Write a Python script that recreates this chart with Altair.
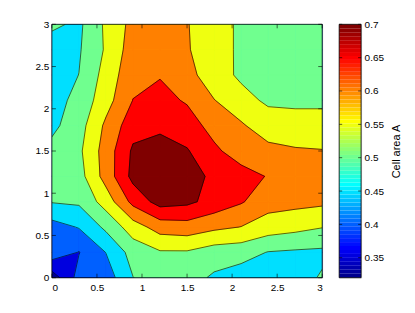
import altair as alt
import numpy as np
import pandas as pd

# ---------------- data ----------------
x_vals = [0.0, 0.3, 0.6, 0.9, 1.2, 1.5, 1.8, 2.1, 2.4, 2.7, 3.0]
y_vals = [0.0, 0.3, 0.6, 0.9, 1.2, 1.5, 1.8, 2.1, 2.4, 2.7, 3.0]
# rows: y (bottom -> top), columns: x (left -> right)
z_y00 = [0.322, 0.418, 0.424, 0.499, 0.525, 0.520, 0.4926, 0.475, 0.470, 0.480, 0.505]
z_y03 = [0.432, 0.398, 0.451, 0.520, 0.545, 0.545, 0.525, 0.520, 0.498, 0.493, 0.490]
z_y06 = [0.430, 0.453, 0.511, 0.576, 0.622, 0.629, 0.611, 0.599, 0.576, 0.565, 0.552]
z_y09 = [0.503, 0.508, 0.572, 0.665, 0.720, 0.711, 0.682, 0.6545, 0.620, 0.615, 0.610]
z_y12 = [0.520, 0.530, 0.620, 0.715, 0.740, 0.715, 0.6925, 0.670, 0.647, 0.620, 0.612]
z_y15 = [0.515, 0.540, 0.622, 0.708, 0.716, 0.704, 0.660, 0.6255, 0.6187, 0.605, 0.602]
z_y18 = [0.488, 0.529, 0.610, 0.680, 0.692, 0.673, 0.632, 0.608, 0.565, 0.570, 0.570]
z_y21 = [0.480, 0.515, 0.580, 0.651, 0.665, 0.645, 0.602, 0.560, 0.545, 0.540, 0.540]
z_y24 = [0.475, 0.5005, 0.569, 0.635, 0.647, 0.622, 0.563, 0.545, 0.535, 0.530, 0.535]
z_y27 = [0.473, 0.495, 0.556, 0.625, 0.635, 0.605, 0.565, 0.544, 0.530, 0.525, 0.530]
z_y30 = [0.510, 0.490, 0.559, 0.615, 0.630, 0.603, 0.565, 0.544, 0.530, 0.525, 0.535]
Z = [z_y00, z_y03, z_y06, z_y09, z_y12, z_y15, z_y18, z_y21, z_y24, z_y27, z_y30]

levels = [0.35, 0.40, 0.45, 0.50, 0.55, 0.60, 0.65, 0.70]
clim = [0.32, 0.70]
x_ticks = [0, 0.5, 1, 1.5, 2, 2.5, 3]
y_ticks = [0, 0.5, 1, 1.5, 2, 2.5, 3]
cb_ticks = [0.35, 0.4, 0.45, 0.5, 0.55, 0.6, 0.65, 0.7]
cb_title = "Cell area  A"


# ---------------- colormap (MATLAB jet, 64 entries) ----------------
def jet(m=64):
    n = int(np.ceil(m / 4))
    u = np.concatenate([np.arange(1, n + 1) / n, np.ones(n - 1), np.arange(n, 0, -1) / n])
    g = int(np.ceil(n / 2)) - (1 if m % 4 == 1 else 0) + np.arange(1, len(u) + 1)
    r = g + n
    b = g - n
    J = np.zeros((m, 3))
    mr, mg, mb = r <= m, g <= m, b >= 1
    J[r[mr] - 1, 0] = u[mr]
    J[g[mg] - 1, 1] = u[mg]
    J[b[mb] - 1, 2] = u[mb]
    return ["#%02x%02x%02x" % tuple(int(round(c * 255)) for c in row) for row in J]


JET = jet(64)

# ---------------- contour computation (marching squares) ----------------
def cell_info(i, j, L):
    P = [(x_vals[i], y_vals[j]), (x_vals[i + 1], y_vals[j]),
         (x_vals[i + 1], y_vals[j + 1]), (x_vals[i], y_vals[j + 1])]
    v = [Z[j][i], Z[j][i + 1], Z[j + 1][i + 1], Z[j + 1][i]]
    hi = [a >= L for a in v]
    cross = {}
    for k in range(4):
        k2 = (k + 1) % 4
        if hi[k] != hi[k2]:
            t = (L - v[k]) / (v[k2] - v[k])
            cross[k] = (P[k][0] + t * (P[k2][0] - P[k][0]), P[k][1] + t * (P[k2][1] - P[k][1]))
    return P, v, hi, cross


def cell_polys(i, j, L):
    P, v, hi, cross = cell_info(i, j, L)
    if not any(hi):
        return []
    if all(hi):
        return [P]
    if len(cross) == 4 and np.mean(v) < L:
        return [[cross[(k - 1) % 4], P[k], cross[k]] for k in range(4) if hi[k]]
    poly = []
    for k in range(4):
        if hi[k]:
            poly.append(P[k])
        if k in cross:
            poly.append(cross[k])
    return [poly]


def cell_segs(i, j, L):
    P, v, hi, cross = cell_info(i, j, L)
    if len(cross) == 2:
        a, b = [cross[k] for k in sorted(cross)]
        return [(a, b)]
    if len(cross) == 4:
        keep_hi = np.mean(v) < L
        return [(cross[(k - 1) % 4], cross[k]) for k in range(4) if hi[k] == keep_hi]
    return []


zmin = min(min(r) for r in Z)
fill_levels = [zmin] + levels
nx, ny = len(x_vals), len(y_vals)

poly_rows = []
pid = 0
for li, L in enumerate(fill_levels):
    for j in range(ny - 1):
        for i in range(nx - 1):
            for poly in cell_polys(i, j, L):
                pts = list(poly) + [poly[0]]
                for k, (px, py) in enumerate(pts):
                    poly_rows.append({"pid": pid, "li": li, "lev": L, "k": k, "x": px, "y": py})
                pid += 1
poly_df = pd.DataFrame(poly_rows)

seg_rows = []
for L in levels:
    for j in range(ny - 1):
        for i in range(nx - 1):
            for (a, b) in cell_segs(i, j, L):
                seg_rows.append({"x1": a[0], "y1": a[1], "x2": b[0], "y2": b[1]})
seg_df = pd.DataFrame(seg_rows)

# ---------------- chart ----------------
W, H = 271, 254
CBW = 22
FONT = "Liberation Sans"

xs = alt.Scale(domain=[0, 3], nice=False, zero=False)
ys = alt.Scale(domain=[0, 3], nice=False, zero=False)
cscale = alt.Scale(type="quantize", domain=clim, range=JET)

x_axis = alt.Axis(values=x_ticks, format="~g", ticks=False, domain=False, grid=False,
                  labelPadding=5, title=None)
y_axis = alt.Axis(values=y_ticks, format="~g", ticks=False, domain=False, grid=False,
                  labelPadding=3, title=None)

layers = []
for li in range(len(fill_levels)):
    sub = poly_df[poly_df["li"] == li]
    if sub.empty:
        continue
    layers.append(
        alt.Chart(sub).mark_line(filled=True, strokeWidth=0.8, clip=True).encode(
            x=alt.X("x:Q", scale=xs, axis=x_axis),
            y=alt.Y("y:Q", scale=ys, axis=y_axis),
            detail="pid:N",
            order=alt.Order("k:Q"),
            fill=alt.Fill("lev:Q", scale=cscale, legend=None),
            stroke=alt.Stroke("lev:Q", scale=cscale, legend=None),
        )
    )

lines = alt.Chart(seg_df).mark_rule(color="black", strokeWidth=0.6, clip=True).encode(
    x=alt.X("x1:Q", scale=xs, axis=x_axis),
    y=alt.Y("y1:Q", scale=ys, axis=y_axis),
    x2="x2:Q",
    y2="y2:Q",
)

xt = pd.DataFrame({"t": x_ticks})
yt = pd.DataFrame({"t": y_ticks})
TL = 4
tick_b = alt.Chart(xt).mark_rule(color="black", strokeWidth=0.6).encode(
    x=alt.X("t:Q", scale=xs, axis=x_axis), y=alt.value(H), y2=alt.value(H - TL))
tick_t = alt.Chart(xt).mark_rule(color="black", strokeWidth=0.6).encode(
    x=alt.X("t:Q", scale=xs, axis=x_axis), y=alt.value(0), y2=alt.value(TL))
tick_l = alt.Chart(yt).mark_rule(color="black", strokeWidth=0.6).encode(
    y=alt.Y("t:Q", scale=ys, axis=y_axis), x=alt.value(0), x2=alt.value(TL))
tick_r = alt.Chart(yt).mark_rule(color="black", strokeWidth=0.6).encode(
    y=alt.Y("t:Q", scale=ys, axis=y_axis), x=alt.value(W), x2=alt.value(W - TL))
frame = alt.Chart(pd.DataFrame({"a": [0]})).mark_rect(filled=False, stroke="black", strokeWidth=0.8).encode(
    x=alt.value(0), x2=alt.value(W), y=alt.value(0), y2=alt.value(H))

main = alt.layer(*layers, lines, tick_b, tick_t, tick_l, tick_r, frame).properties(width=W, height=H)

# colorbar
step = (clim[1] - clim[0]) / len(JET)
cb_lo = [clim[0] + k * step for k in range(len(JET))]
cb_df = pd.DataFrame({"v0": cb_lo, "v1": [v + step for v in cb_lo], "vm": [v + step / 2 for v in cb_lo]})
cys = alt.Scale(domain=clim, nice=False, zero=False)
cb_axis = alt.Axis(values=cb_ticks, format="~g", ticks=False, domain=False, grid=False, orient="right",
                   labelPadding=3, title=cb_title, titleAngle=270, titleBaseline="top",
                   titleFontWeight="normal", titleFontSize=11, titlePadding=7)
cb_rect = alt.Chart(cb_df).mark_rect().encode(
    y=alt.Y("v0:Q", scale=cys, axis=cb_axis),
    y2="v1:Q",
    x=alt.value(0), x2=alt.value(CBW),
    fill=alt.Fill("vm:Q", scale=cscale, legend=None),
)
cbt = pd.DataFrame({"t": cb_ticks})
cb_tl = alt.Chart(cbt).mark_rule(color="black", strokeWidth=0.6).encode(
    y=alt.Y("t:Q", scale=cys, axis=cb_axis), x=alt.value(0), x2=alt.value(3))
cb_tr = alt.Chart(cbt).mark_rule(color="black", strokeWidth=0.6).encode(
    y=alt.Y("t:Q", scale=cys, axis=cb_axis), x=alt.value(CBW), x2=alt.value(CBW - 3))
cb_frame = alt.Chart(pd.DataFrame({"a": [0]})).mark_rect(filled=False, stroke="black", strokeWidth=0.8).encode(
    x=alt.value(0), x2=alt.value(CBW), y=alt.value(0), y2=alt.value(H))
cbar = alt.layer(cb_rect, cb_tl, cb_tr, cb_frame).properties(width=CBW, height=H)

chart = alt.hconcat(main, cbar, spacing=15).resolve_scale(fill="independent").properties(
    padding={"left": 26, "top": 10, "right": 5, "bottom": 5}
).configure_view(strokeWidth=0).configure_axis(
    labelFont=FONT, titleFont=FONT, labelFontSize=10, labelColor="black", titleColor="black"
).configure(background="white")

chart.save("out.html", embed_options={"renderer": "svg", "actions": False})
